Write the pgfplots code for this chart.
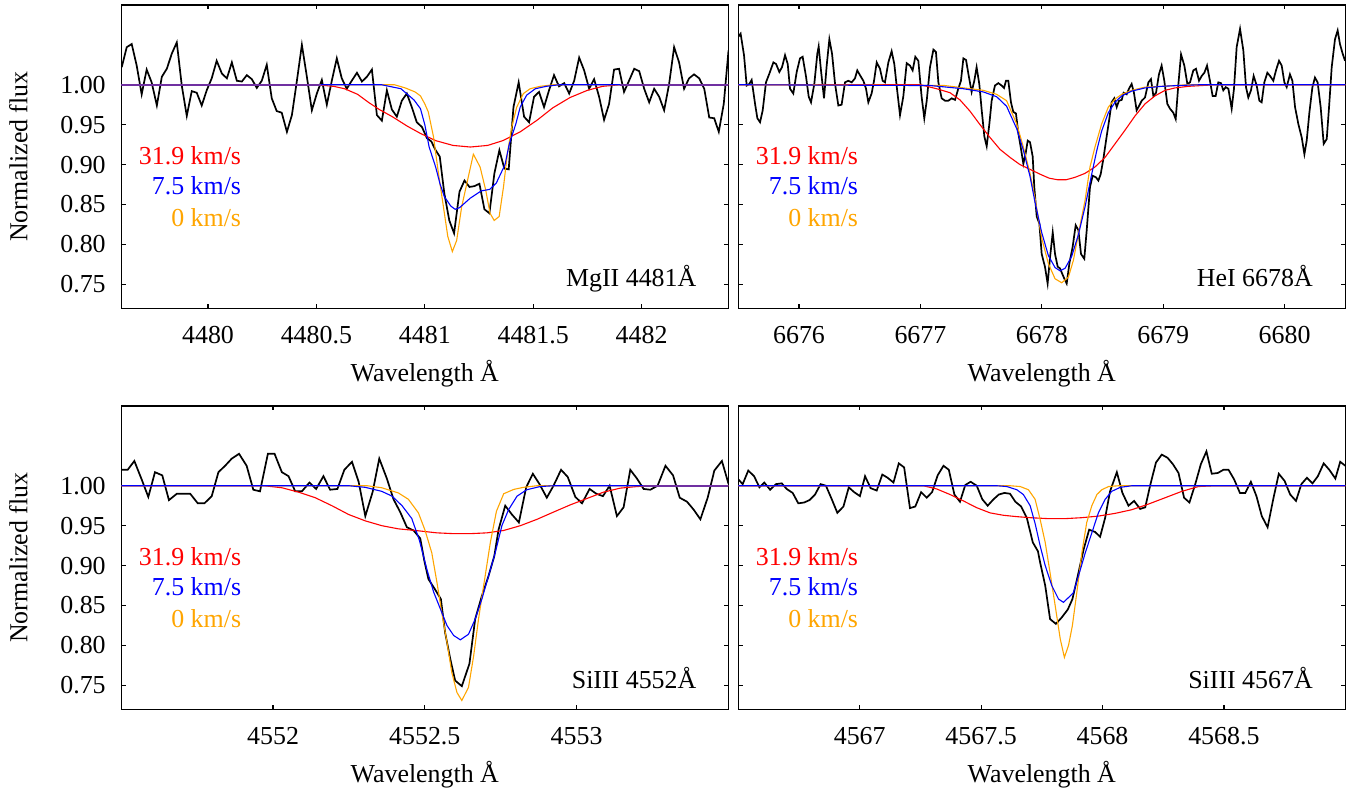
\documentclass[border=0pt]{standalone}
\usepackage{fontspec}
\setmainfont{Liberation Serif}
\usepackage{pgfplots}
\pgfplotsset{compat=1.18}

\definecolor{modelred}{rgb}{1,0,0}
\definecolor{modelblue}{rgb}{0,0,1}
\definecolor{modelorange}{rgb}{1,0.647,0}
\definecolor{wingpurple}{rgb}{0.44,0.19,0.63}

\pgfplotsset{
  panel/.style={
    scale only axis, width=303.5bp, height=151.7bp,
    anchor=south west,
    ymin=0.72, ymax=1.10,
    ytick={0.75,0.80,0.85,0.90,0.95,1.00},
    scaled x ticks=false, scaled y ticks=false,
    /pgf/number format/assume math mode=true,
    yticklabel style={/pgf/number format/fixed, /pgf/number format/fixed zerofill,
      /pgf/number format/precision=2, anchor=east, inner sep=0pt, xshift=-7.6bp},
    xticklabel style={/pgf/number format/fixed, /pgf/number format/precision=1,
      /pgf/number format/1000 sep={}, anchor=base, inner sep=0pt, yshift=-17.6bp},
    tick align=inside, major tick length=2.2bp,
    every tick/.style={black, line width=0.6bp},
    axis line style={line width=0.7bp},
    xlabel={Wavelength Å},
    xlabel style={at={(axis description cs:0.5,0)}, anchor=base, inner sep=0pt, yshift=-36.8bp},
    ylabel style={at={(axis description cs:-0.1549,0.5)}, anchor=base, inner sep=0pt},
  },
  obs/.style={black, line width=0.85bp},
  mred/.style={modelred, line width=0.55bp},
  mblue/.style={modelblue, line width=0.55bp},
  morange/.style={modelorange, line width=0.55bp},
  mwing/.style={wingpurple, line width=0.9bp},
}

\newcommand{\speedlabels}{%
  \node[anchor=base east, inner sep=0pt, text=modelred] at (rel axis cs:0.198,0.474) {31.9 km/s};
  \node[anchor=base east, inner sep=0pt, text=modelblue] at (rel axis cs:0.198,0.375) {7.5 km/s};
  \node[anchor=base east, inner sep=0pt, text=modelorange] at (rel axis cs:0.198,0.270) {0 km/s};
}

\begin{document}
\fontsize{13}{15}\selectfont
\begin{tikzpicture}
\useasboundingbox (0,0) rectangle (679.5bp,396bp);

% ---------------- Mg II 4481 ----------------
\begin{axis}[panel, at={(60.65bp,241.85bp)},
  xmin=4479.6, xmax=4482.4,
  xtick={4480,4480.5,4481,4481.5,4482},
  ylabel={Normalized flux}]
\addplot[obs] table {
4479.602 1.022
4479.625 1.047
4479.648 1.051
4479.671 1.024
4479.694 0.988
4479.717 1.019
4479.740 1.003
4479.764 0.974
4479.787 1.010
4479.810 1.020
4479.833 1.039
4479.856 1.053
4479.879 0.999
4479.902 0.961
4479.925 0.992
4479.948 0.990
4479.971 0.974
4479.994 0.993
4480.017 1.008
4480.040 1.030
4480.064 1.014
4480.087 1.008
4480.110 1.028
4480.133 1.005
4480.156 1.004
4480.179 1.012
4480.202 1.007
4480.225 0.996
4480.248 1.005
4480.271 1.025
4480.294 0.983
4480.317 0.967
4480.340 0.965
4480.364 0.941
4480.387 0.962
4480.410 1.005
4480.433 1.050
4480.456 1.010
4480.479 0.968
4480.502 0.989
4480.525 1.006
4480.548 0.975
4480.571 1.005
4480.594 1.033
4480.617 1.008
4480.640 0.995
4480.663 1.005
4480.687 1.015
4480.710 1.004
4480.733 1.010
4480.756 1.019
4480.779 0.962
4480.802 0.955
4480.825 0.993
4480.848 0.969
4480.871 0.960
4480.894 0.980
4480.917 0.989
4480.940 0.972
4480.963 0.953
4480.987 0.947
4481.010 0.933
4481.030 0.929
4481.050 0.918
4481.069 0.910
4481.090 0.864
4481.113 0.830
4481.135 0.814
4481.160 0.866
4481.183 0.880
4481.206 0.872
4481.229 0.873
4481.252 0.876
4481.275 0.844
4481.298 0.839
4481.321 0.889
4481.344 0.918
4481.367 0.895
4481.387 0.894
4481.409 0.972
4481.433 1.003
4481.458 0.960
4481.481 0.953
4481.504 0.985
4481.527 0.991
4481.550 0.972
4481.573 0.993
4481.596 1.012
4481.619 0.998
4481.643 1.002
4481.666 0.989
4481.689 1.005
4481.712 1.034
4481.735 1.018
4481.758 0.995
4481.781 1.007
4481.804 0.985
4481.827 0.956
4481.850 0.976
4481.873 1.019
4481.896 1.020
4481.919 0.991
4481.942 1.005
4481.966 1.020
4481.989 1.017
4482.012 0.995
4482.035 0.978
4482.058 0.995
4482.081 0.985
4482.104 0.968
4482.127 1.001
4482.150 1.047
4482.173 1.028
4482.196 0.995
4482.219 1.008
4482.242 1.013
4482.266 1.008
4482.289 0.995
4482.312 0.959
4482.335 0.958
4482.356 0.941
4482.379 0.976
4482.401 1.043
};
\addplot[mred] table {
4479.60 1.000
4480.50 1.000
4480.58 0.998
4480.63 0.995
4480.69 0.988
4480.74 0.978
4480.79 0.969
4480.85 0.960
4480.92 0.948
4480.98 0.939
4481.05 0.930
4481.13 0.924
4481.21 0.922
4481.29 0.924
4481.36 0.930
4481.44 0.941
4481.52 0.956
4481.59 0.971
4481.67 0.984
4481.75 0.993
4481.82 0.998
4481.90 1.000
4482.40 1.000
};
\addplot[morange] table {
4479.60 1.000
4480.86 1.000
4480.91 0.996
4480.955 0.991
4480.98 0.986
4481.00 0.976
4481.016 0.966
4481.04 0.935
4481.063 0.889
4481.086 0.847
4481.106 0.810
4481.127 0.791
4481.147 0.805
4481.170 0.847
4481.201 0.885
4481.224 0.913
4481.255 0.897
4481.281 0.868
4481.301 0.839
4481.320 0.830
4481.343 0.835
4481.363 0.872
4481.381 0.914
4481.401 0.947
4481.424 0.972
4481.455 0.989
4481.486 0.995
4481.532 0.998
4481.593 1.000
4482.40 1.000
};
\addplot[mblue] table {
4479.60 1.000
4480.80 1.000
4480.89 0.995
4480.95 0.981
4480.98 0.970
4481.00 0.950
4481.02 0.922
4481.05 0.897
4481.07 0.876
4481.09 0.860
4481.12 0.848
4481.14 0.844
4481.16 0.846
4481.21 0.858
4481.26 0.867
4481.30 0.869
4481.33 0.877
4481.37 0.900
4481.39 0.926
4481.42 0.951
4481.44 0.972
4481.47 0.987
4481.51 0.995
4481.56 0.998
4481.62 1.000
4482.40 1.000
};
% continuum where the broad and the narrow profiles coincide
\addplot[mwing] table {
4479.60 1.000
4480.52 1.000
};
\addplot[mwing] table {
4481.90 1.000
4482.40 1.000
};
\speedlabels
\node[anchor=base east, inner sep=0pt] at (rel axis cs:0.948,0.071) {MgII 4481Å};
\end{axis}

% ---------------- He I 6678 ----------------
\begin{axis}[panel, at={(369.15bp,241.85bp)},
  xmin=6675.5, xmax=6680.5,
  xtick={6676,6677,6678,6679,6680},
  yticklabels={}]
\addplot[obs] table {
6675.500 1.060
6675.519 1.064
6675.547 1.037
6675.569 0.999
6675.591 1.001
6675.610 1.006
6675.638 0.976
6675.657 0.958
6675.679 0.953
6675.701 0.968
6675.728 1.003
6675.756 1.014
6675.789 1.028
6675.811 1.026
6675.838 1.016
6675.860 1.022
6675.885 1.037
6675.907 1.026
6675.926 0.995
6675.953 0.989
6675.981 1.016
6676.008 1.033
6676.030 1.035
6676.058 1.010
6676.080 0.985
6676.099 0.978
6676.126 1.001
6676.151 1.039
6676.162 1.048
6676.181 1.018
6676.206 0.983
6676.228 1.024
6676.250 1.057
6676.272 1.039
6676.297 1.001
6676.324 0.974
6676.351 0.975
6676.379 1.003
6676.406 1.005
6676.434 1.003
6676.461 1.008
6676.480 1.018
6676.502 1.012
6676.530 1.005
6676.552 0.995
6676.571 0.978
6676.598 0.989
6676.618 1.005
6676.640 1.028
6676.667 1.020
6676.689 1.005
6676.708 1.003
6676.736 1.028
6676.763 1.042
6676.785 1.026
6676.804 0.999
6676.832 0.962
6676.859 0.985
6676.887 1.027
6676.914 1.024
6676.936 1.018
6676.958 1.035
6676.983 1.030
6677.010 0.985
6677.032 0.958
6677.052 0.980
6677.079 1.022
6677.107 1.044
6677.128 1.041
6677.148 1.003
6677.175 0.983
6677.203 0.980
6677.230 0.980
6677.258 0.983
6677.285 0.981
6677.312 0.995
6677.334 1.005
6677.354 1.033
6677.376 1.031
6677.397 1.012
6677.422 0.991
6677.444 1.005
6677.463 1.022
6677.485 1.001
6677.505 0.968
6677.527 0.935
6677.546 0.923
6677.568 0.951
6677.587 0.980
6677.614 0.999
6677.642 1.002
6677.669 0.999
6677.689 0.996
6677.705 1.005
6677.724 1.005
6677.746 0.978
6677.765 0.966
6677.787 0.964
6677.807 0.939
6677.826 0.922
6677.848 0.901
6677.867 0.914
6677.884 0.930
6677.903 0.928
6677.925 0.910
6677.938 0.872
6677.958 0.835
6677.980 0.826
6677.999 0.788
6678.026 0.772
6678.048 0.751
6678.068 0.784
6678.090 0.815
6678.109 0.788
6678.131 0.772
6678.150 0.770
6678.169 0.763
6678.186 0.757
6678.205 0.751
6678.227 0.776
6678.254 0.797
6678.279 0.824
6678.301 0.818
6678.323 0.788
6678.350 0.782
6678.370 0.818
6678.397 0.872
6678.419 0.886
6678.446 0.884
6678.466 0.880
6678.485 0.888
6678.507 0.907
6678.529 0.930
6678.554 0.955
6678.575 0.978
6678.597 0.983
6678.617 0.972
6678.636 0.980
6678.658 0.981
6678.674 0.990
6678.699 0.988
6678.718 0.995
6678.740 1.001
6678.759 0.990
6678.781 0.968
6678.803 0.974
6678.823 0.980
6678.850 0.984
6678.878 1.003
6678.899 1.007
6678.919 0.986
6678.941 0.990
6678.965 1.013
6678.987 1.024
6679.009 1.005
6679.034 0.976
6679.056 0.970
6679.083 0.965
6679.103 0.957
6679.125 1.001
6679.147 1.038
6679.174 1.024
6679.199 1.001
6679.221 1.003
6679.248 1.018
6679.270 1.020
6679.295 1.005
6679.317 1.011
6679.339 1.015
6679.361 1.024
6679.385 1.005
6679.407 0.986
6679.432 0.986
6679.454 1.003
6679.476 1.002
6679.495 0.993
6679.515 0.997
6679.537 0.995
6679.564 0.970
6679.583 0.995
6679.605 1.047
6679.633 1.070
6679.660 1.043
6679.682 0.997
6679.701 0.984
6679.723 0.993
6679.745 1.011
6679.770 0.999
6679.792 0.980
6679.811 0.978
6679.833 1.003
6679.858 1.015
6679.880 1.011
6679.907 1.005
6679.929 1.018
6679.954 1.030
6679.976 1.024
6679.998 1.003
6680.017 0.997
6680.044 1.013
6680.064 1.005
6680.086 0.972
6680.113 0.951
6680.141 0.934
6680.163 0.913
6680.182 0.930
6680.204 0.965
6680.229 0.997
6680.250 1.009
6680.272 1.003
6680.297 0.972
6680.322 0.926
6680.347 0.932
6680.368 0.976
6680.388 1.022
6680.415 1.057
6680.437 1.068
6680.456 1.051
6680.476 1.040
6680.498 1.030
};
\addplot[mred] table {
6675.50 1.000
6677.00 1.000
6677.134 0.995
6677.244 0.990
6677.326 0.981
6677.408 0.967
6677.491 0.950
6677.573 0.934
6677.656 0.919
6677.738 0.909
6677.820 0.900
6677.903 0.894
6677.985 0.888
6678.06 0.883
6678.13 0.881
6678.20 0.881
6678.273 0.884
6678.356 0.889
6678.438 0.897
6678.521 0.909
6678.603 0.926
6678.685 0.943
6678.768 0.961
6678.850 0.976
6678.932 0.986
6679.015 0.993
6679.097 0.996
6679.207 0.998
6679.317 0.999
6679.43 1.000
6680.50 1.000
};
\addplot[morange] table {
6675.50 1.000
6677.20 0.999
6677.518 0.993
6677.628 0.988
6677.710 0.980
6677.793 0.951
6677.848 0.922
6677.903 0.889
6677.944 0.858
6677.999 0.808
6678.054 0.776
6678.109 0.757
6678.164 0.752
6678.219 0.759
6678.260 0.780
6678.301 0.813
6678.356 0.855
6678.397 0.897
6678.438 0.922
6678.493 0.951
6678.548 0.972
6678.603 0.982
6678.658 0.988
6678.740 0.993
6678.850 0.997
6678.987 0.998
6679.20 1.000
6680.50 1.000
};
\addplot[mblue] table {
6675.50 1.000
6677.08 0.999
6677.354 0.995
6677.518 0.991
6677.628 0.985
6677.710 0.973
6677.793 0.945
6677.848 0.918
6677.903 0.885
6677.944 0.853
6677.999 0.815
6678.054 0.786
6678.109 0.771
6678.150 0.767
6678.191 0.770
6678.246 0.785
6678.301 0.812
6678.356 0.847
6678.411 0.888
6678.452 0.917
6678.493 0.942
6678.548 0.965
6678.603 0.978
6678.658 0.986
6678.740 0.992
6678.850 0.996
6678.987 0.998
6679.12 0.999
6679.30 1.000
6680.50 1.000
};
\speedlabels
\node[anchor=base east, inner sep=0pt] at (rel axis cs:0.947,0.071) {HeI 6678Å};
\end{axis}

% ---------------- Si III 4552 ----------------
\begin{axis}[panel, at={(60.65bp,41.35bp)},
  xmin=4551.5, xmax=4553.5,
  xtick={4552,4552.5,4553},
  ylabel={Normalized flux}]
\addplot[obs] table {
4551.501 1.020
4551.521 1.020
4551.543 1.031
4551.567 1.008
4551.589 0.986
4551.611 1.017
4551.635 1.013
4551.657 0.982
4551.683 0.990
4551.705 0.990
4551.727 0.990
4551.752 0.978
4551.774 0.978
4551.798 0.987
4551.820 1.017
4551.842 1.025
4551.864 1.034
4551.888 1.040
4551.913 1.025
4551.935 0.995
4551.957 0.993
4551.983 1.040
4552.005 1.040
4552.029 1.017
4552.051 1.012
4552.073 0.993
4552.095 0.993
4552.120 1.004
4552.142 0.996
4552.166 1.012
4552.188 0.995
4552.212 0.996
4552.235 1.020
4552.260 1.030
4552.282 1.005
4552.304 0.962
4552.328 0.992
4552.350 1.034
4552.375 1.009
4552.397 0.983
4552.419 0.967
4552.441 0.948
4552.463 0.944
4552.485 0.934
4552.499 0.905
4552.512 0.883
4552.534 0.870
4552.553 0.858
4552.567 0.816
4552.584 0.783
4552.600 0.756
4552.622 0.749
4552.647 0.777
4552.666 0.833
4552.688 0.862
4552.710 0.887
4552.729 0.912
4552.743 0.945
4552.765 0.975
4552.787 0.964
4552.810 0.954
4552.834 0.998
4552.856 1.015
4552.878 1.002
4552.902 0.985
4552.924 1.000
4552.949 1.020
4552.971 1.011
4552.996 0.986
4553.018 0.978
4553.043 0.996
4553.065 0.990
4553.087 0.987
4553.109 1.000
4553.133 0.962
4553.155 0.973
4553.177 1.020
4553.199 1.009
4553.221 0.996
4553.243 0.995
4553.267 1.000
4553.293 1.025
4553.318 1.013
4553.340 0.985
4553.364 0.980
4553.386 0.970
4553.408 0.958
4553.432 0.985
4553.454 1.019
4553.479 1.031
4553.501 1.002
};
\addplot[mred] table {
4551.50 1.000
4551.97 1.000
4552.029 0.9975
4552.084 0.992
4552.139 0.985
4552.194 0.975
4552.249 0.964
4552.304 0.956
4552.358 0.950
4552.413 0.946
4552.468 0.944
4552.540 0.941
4552.595 0.940
4552.650 0.940
4552.705 0.941
4552.760 0.944
4552.815 0.950
4552.870 0.958
4552.924 0.967
4552.979 0.976
4553.034 0.984
4553.089 0.992
4553.144 0.997
4553.199 0.999
4553.254 1.000
4553.50 1.000
};
\addplot[morange] table {
4551.50 1.000
4552.31 1.000
4552.358 0.9975
4552.413 0.991
4552.446 0.983
4552.479 0.966
4552.501 0.944
4552.523 0.916
4552.540 0.879
4552.556 0.841
4552.573 0.804
4552.589 0.766
4552.606 0.741
4552.622 0.731
4552.644 0.7475
4552.661 0.787
4552.677 0.833
4552.694 0.875
4552.716 0.929
4552.736 0.968
4552.760 0.990
4552.793 0.9954
4552.825 0.998
4552.869 1.000
4553.50 1.000
};
\addplot[mblue] table {
4551.50 1.000
4552.25 1.000
4552.304 0.998
4552.358 0.993
4552.392 0.987
4552.425 0.975
4552.457 0.959
4552.482 0.932
4552.507 0.895
4552.529 0.867
4552.551 0.846
4552.573 0.825
4552.595 0.8125
4552.617 0.807
4552.644 0.814
4552.666 0.833
4552.688 0.858
4552.710 0.887
4552.732 0.916
4552.754 0.950
4552.776 0.970
4552.804 0.987
4552.836 0.995
4552.880 0.999
4552.924 1.000
4553.50 1.000
};
\addplot[mwing] table {
4553.22 1.000
4553.50 1.000
};
\speedlabels
\node[anchor=base east, inner sep=0pt] at (rel axis cs:0.948,0.070) {SiIII 4552Å};
\end{axis}

% ---------------- Si III 4567 ----------------
\begin{axis}[panel, at={(369.15bp,41.35bp)},
  xmin=4566.5, xmax=4569.0,
  xtick={4567,4567.5,4568,4568.5},
  yticklabels={}]
\addplot[obs] table {
4566.500 1.008
4566.518 1.002
4566.541 1.019
4566.565 1.012
4566.587 0.998
4566.607 1.004
4566.631 0.995
4566.655 1.002
4566.679 1.003
4566.699 0.996
4566.724 0.991
4566.747 0.978
4566.771 0.979
4566.793 0.982
4566.816 0.989
4566.839 1.002
4566.861 1.000
4566.885 0.983
4566.908 0.966
4566.933 0.974
4566.955 0.998
4566.977 0.992
4567.001 0.987
4567.022 1.012
4567.045 0.997
4567.070 0.994
4567.093 1.014
4567.115 1.010
4567.139 1.004
4567.161 1.028
4567.183 1.023
4567.207 0.972
4567.229 0.974
4567.253 0.992
4567.276 0.985
4567.298 0.992
4567.321 1.013
4567.345 1.025
4567.367 1.020
4567.390 0.989
4567.413 0.980
4567.435 1.001
4567.457 1.005
4567.482 1.000
4567.505 0.983
4567.527 0.975
4567.551 0.983
4567.573 0.989
4567.596 0.991
4567.619 0.990
4567.641 0.980
4567.665 0.974
4567.688 0.960
4567.713 0.929
4567.734 0.918
4567.743 0.904
4567.764 0.875
4567.784 0.833
4567.808 0.827
4567.832 0.835
4567.857 0.845
4567.876 0.858
4567.898 0.887
4567.922 0.920
4567.945 0.945
4567.970 0.942
4567.990 0.936
4568.011 0.960
4568.031 0.993
4568.059 1.017
4568.082 0.991
4568.107 0.975
4568.130 0.981
4568.155 0.971
4568.176 0.973
4568.196 1.000
4568.220 1.029
4568.244 1.039
4568.268 1.035
4568.290 1.027
4568.313 1.016
4568.336 0.985
4568.358 0.979
4568.382 1.002
4568.405 1.027
4568.428 1.043
4568.450 1.015
4568.475 1.016
4568.498 1.020
4568.519 1.020
4568.542 1.008
4568.566 0.991
4568.588 0.991
4568.611 1.005
4568.634 0.987
4568.656 0.962
4568.680 0.948
4568.703 0.983
4568.726 1.015
4568.750 1.006
4568.773 0.989
4568.797 0.981
4568.819 1.002
4568.842 1.010
4568.865 1.003
4568.887 1.012
4568.911 1.028
4568.934 1.020
4568.959 1.009
4568.979 1.030
4569.000 1.025
};
\addplot[mred] table {
4566.50 1.000
4567.262 1.000
4567.317 0.996
4567.372 0.989
4567.427 0.981
4567.482 0.9725
4567.537 0.966
4567.592 0.963
4567.647 0.9613
4567.702 0.960
4567.777 0.9588
4567.846 0.9588
4567.915 0.960
4567.983 0.962
4568.052 0.9654
4568.121 0.970
4568.189 0.977
4568.258 0.985
4568.327 0.993
4568.395 0.999
4568.464 1.000
4569.00 1.000
};
\addplot[morange] table {
4566.50 1.000
4567.619 1.000
4567.661 0.999
4567.695 0.995
4567.7225 0.983
4567.743 0.958
4567.764 0.929
4567.784 0.891
4567.805 0.850
4567.826 0.808
4567.843 0.785
4567.860 0.800
4567.876 0.825
4567.894 0.866
4567.915 0.916
4567.935 0.954
4567.956 0.975
4567.977 0.989
4567.997 0.995
4568.025 0.999
4568.066 1.000
4569.00 1.000
};
\addplot[mblue] table {
4566.50 1.000
4567.565 1.000
4567.606 0.999
4567.647 0.995
4567.674 0.989
4567.702 0.975
4567.723 0.952
4567.743 0.925
4567.764 0.900
4567.791 0.875
4567.819 0.858
4567.839 0.854
4567.860 0.860
4567.880 0.866
4567.901 0.887
4567.929 0.916
4567.956 0.941
4567.983 0.966
4568.011 0.983
4568.038 0.993
4568.073 0.998
4568.121 1.000
4569.00 1.000
};
\speedlabels
\node[anchor=base east, inner sep=0pt] at (rel axis cs:0.947,0.070) {SiIII 4567Å};
\end{axis}
\end{tikzpicture}
\end{document}
